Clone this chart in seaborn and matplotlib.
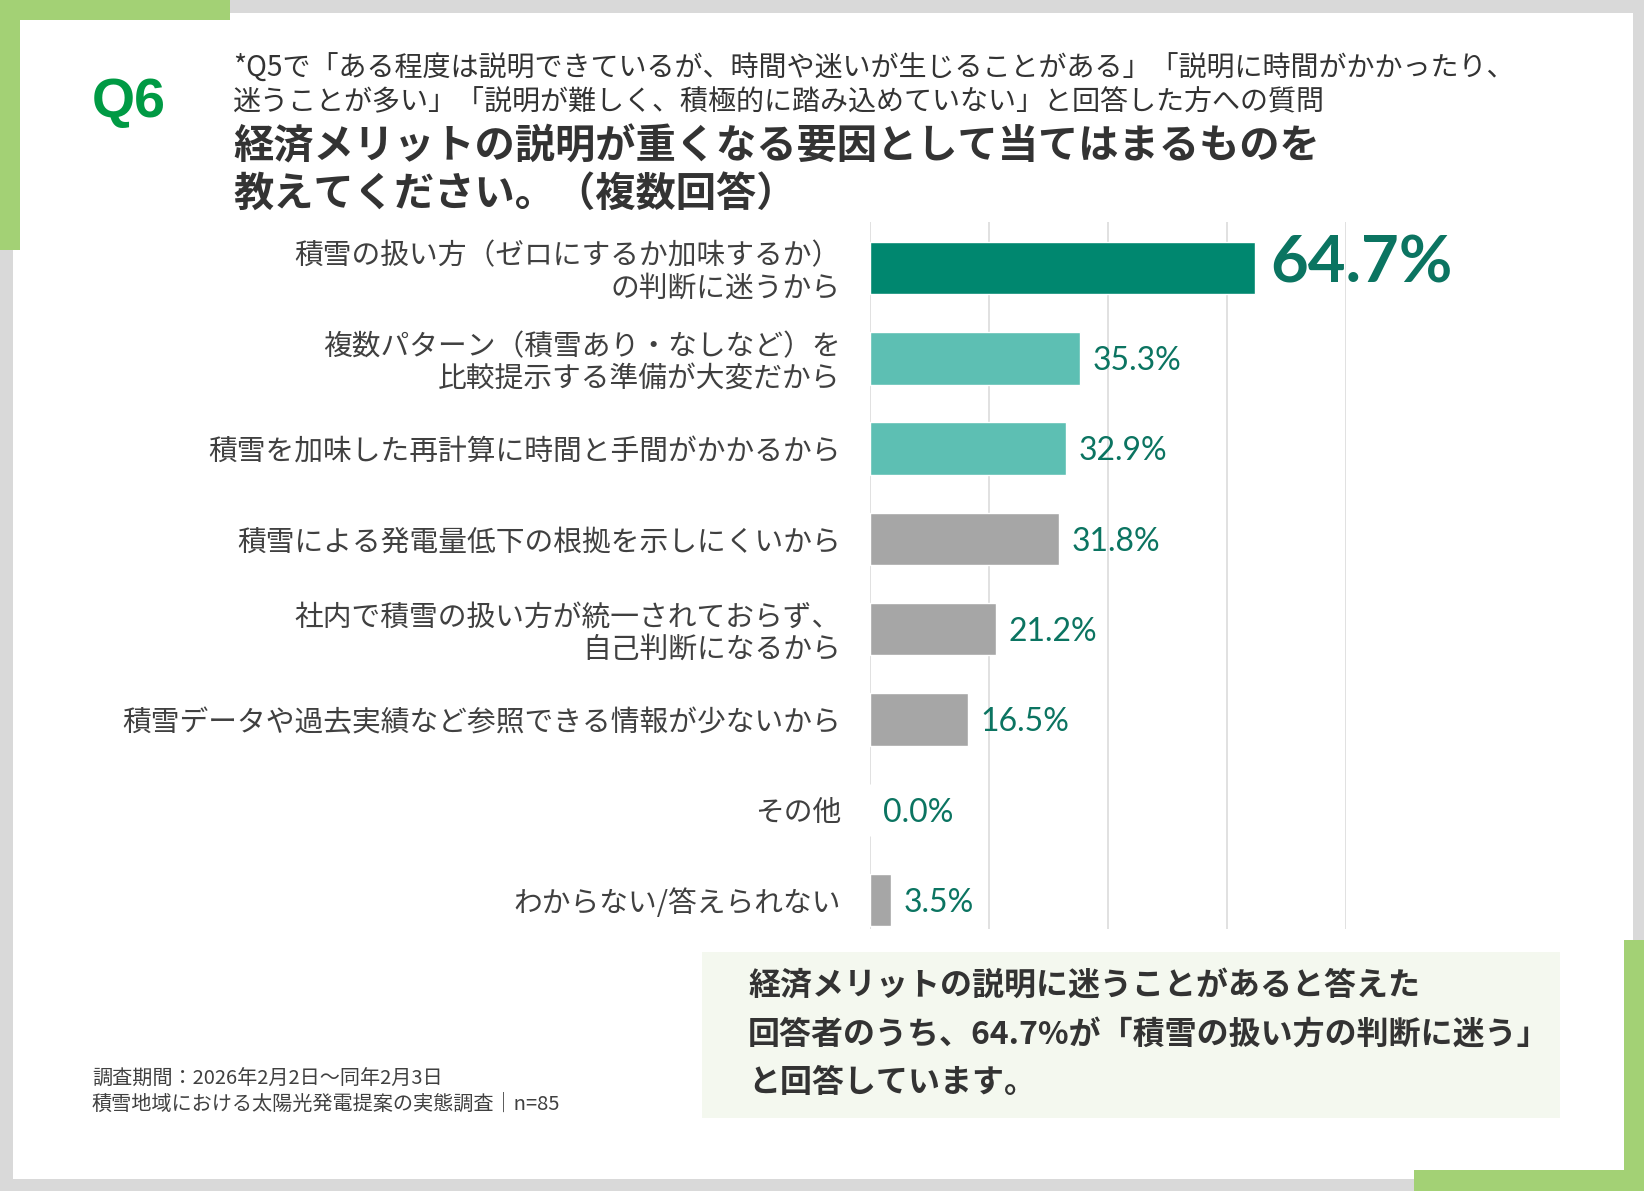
import matplotlib
matplotlib.use("Agg")

import pandas as pd
import matplotlib.pyplot as plt
import seaborn as sns
from matplotlib.patches import Rectangle

# -----------------------------
# Data
# -----------------------------

categories = [
    "積雪の扱い方（ゼロにするか加味するか）\nの判断に迷うから",
    "複数パターン（積雪あり・なしなど）を\n比較提示する準備が大変だから",
    "積雪を加味した再計算に時間と手間がかかるから",
    "積雪による発電量低下の根拠を示しにくいから",
    "社内で積雪の扱い方が統一されておらず、\n自己判断になるから",
    "積雪データや過去実績など参照できる情報が少ないから",
    "その他",
    "わからない/答えられない",
]
values = [64.7, 35.3, 32.9, 31.8, 21.2, 16.5, 0.0, 3.5]

q_label = "Q6"
subtitle_lines = [
    "*Q5で「ある程度は説明できているが、時間や迷いが生じることがある」「説明に時間がかかったり、",
    "迷うことが多い」「説明が難しく、積極的に踏み込めていない」と回答した方への質問",
]
title_lines = [
    "経済メリットの説明が重くなる要因として当てはまるものを",
    "教えてください。（複数回答）",
]
summary_lines = [
    "経済メリットの説明に迷うことがあると答えた",
    "回答者のうち、64.7%が「積雪の扱い方の判断に迷う」",
    "と回答しています。",
]
footer_lines = [
    "調査期間：2026年2月2日～同年2月3日",
    "積雪地域における太陽光発電提案の実態調査｜n=85",
]

df = pd.DataFrame({"category": categories, "value": values})

# -----------------------------
# Style
# -----------------------------

sns.set_style("white")
plt.rcParams["font.family"] = ["Noto Sans CJK JP", "DejaVu Sans"]

W, H = 1644, 1191
palette = ["#00876F", "#5DBFB3", "#5DBFB3", "#A6A6A6",
           "#A6A6A6", "#A6A6A6", "#A6A6A6", "#A6A6A6"]
label_color = "#0B7461"
text_color = "#333333"


def fx(px):
    return px / W


def fy(py):
    return 1 - py / H


fig = plt.figure(figsize=(W / 100, H / 100), dpi=100, facecolor="#D9D9D9")

# frame
def rect(x0, y0, x1, y1, color, z):
    fig.add_artist(Rectangle((fx(x0), fy(y1)), fx(x1) - fx(x0), fy(y0) - fy(y1),
                             transform=fig.transFigure, facecolor=color,
                             edgecolor="none", zorder=z))


rect(13, 13, 1633, 1179, "white", -10)
rect(0, 0, 230, 20, "#A3D175", -5)
rect(0, 0, 20, 250, "#A3D175", -5)
rect(1624, 940, 1644, 1191, "#A3D175", -5)
rect(1414, 1170, 1644, 1191, "#A3D175", -5)
rect(702, 952, 1560, 1118, "#F4F8EF", -5)

# -----------------------------
# Chart
# -----------------------------

ax = fig.add_axes([fx(870), fy(929), fx(1346) - fx(870), fy(222) - fy(929)])
ax.set_facecolor("none")

sns.barplot(
    data=df,
    x="value",
    y="category",
    hue="category",
    palette=palette,
    legend=False,
    orient="h",
    width=0.58,
    saturation=1,
    ax=ax,
)

ax.set_xlim(0, 80)
ax.set_ylim(len(categories) - 1 + 0.32, -0.51)
ax.set_xticks([0, 20, 40, 60, 80])
ax.xaxis.grid(True, color="#D9D9D9", linewidth=1.1)
ax.set_axisbelow(True)
ax.tick_params(axis="x", length=0, labelbottom=False)
ax.tick_params(axis="y", length=0, pad=21, labelsize=20.7, labelcolor="#404040")
for lab in ax.get_yticklabels():
    lab.set_linespacing(1.1)
ax.set_xlabel("")
ax.set_ylabel("")
sns.despine(ax=ax, left=True, bottom=True)

for i, v in enumerate(values):
    if i == 0:
        ax.annotate(f"{v:.1f}%", (v, i), xytext=(11, 3), textcoords="offset points",
                    ha="left", va="center", fontsize=47, fontweight="bold",
                    color=label_color, family=["Lato", "DejaVu Sans"])
    else:
        ax.annotate(f"{v:.1f}%", (v, i), xytext=(9, -2), textcoords="offset points",
                    ha="left", va="center", fontsize=23,
                    color=label_color, family=["Lato", "DejaVu Sans"])

# -----------------------------
# Texts
# -----------------------------

fig.text(fx(92), fy(103), q_label, ha="left", va="center", fontsize=40,
         fontweight="bold", color="#009A44", family=["Liberation Sans", "DejaVu Sans"])

for py, line in zip([69, 102], subtitle_lines):
    fig.text(fx(233), fy(py), line, ha="left", va="center", fontsize=20.2, color=text_color)

for py, line in zip([147, 194], title_lines):
    fig.text(fx(233), fy(py), line, ha="left", va="center", fontsize=29,
             fontweight="bold", color=text_color)

for py, line in zip([986, 1035, 1083], summary_lines):
    fig.text(fx(748), fy(py), line, ha="left", va="center", fontsize=23,
             fontweight="bold", color=text_color)

for py, line in zip([1079, 1104], footer_lines):
    fig.text(fx(92), fy(py), line, ha="left", va="center", fontsize=14.5, color="#404040")

fig.savefig("out.png", dpi=100, facecolor=fig.get_facecolor())
plt.close(fig)
